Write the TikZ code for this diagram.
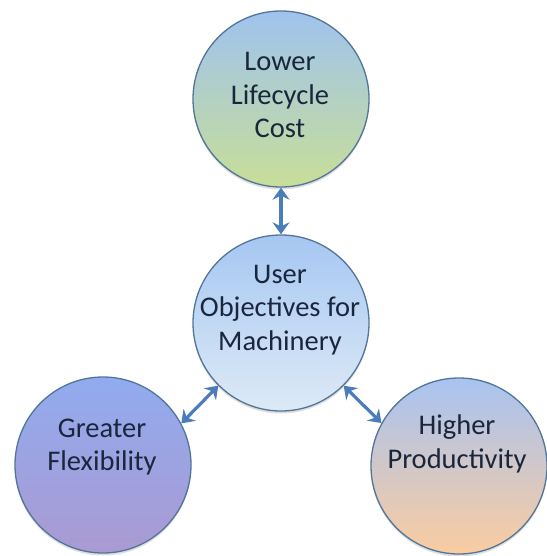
\documentclass[tikz,border=0pt]{standalone}
\usepackage{fontspec}
\setmainfont{Carlito}
\usetikzlibrary{arrows.meta,shadows}
\definecolor{edgec}{HTML}{527599}
\definecolor{arrc}{HTML}{4A7DBA}
\definecolor{txtc}{HTML}{1A263C}
\definecolor{topA}{HTML}{9FC3EE}
\definecolor{topB}{HTML}{C8DE98}
\definecolor{midA}{HTML}{A6C7F2}
\definecolor{midB}{HTML}{DDEAF6}
\definecolor{leftA}{HTML}{91ABEF}
\definecolor{leftB}{HTML}{AA9AD2}
\definecolor{rightA}{HTML}{A8C3F1}
\definecolor{rightB}{HTML}{FACCA0}
\tikzset{
  circ/.style={circle, draw=edgec, line width=1.3pt, minimum size=176pt, inner sep=0pt,
    drop shadow={shadow xshift=0pt, shadow yshift=-2.5pt, opacity=0.25}},
  txt/.style={align=center, text=txtc, font=\fontsize{28.5}{33.5}\selectfont, inner sep=0pt},
  link/.style={draw=arrc, line width=3.2pt, {Stealth[length=12pt,width=17pt,inset=4pt]}-{Stealth[length=12pt,width=17pt,inset=4pt]}}
}
\begin{document}
\begin{tikzpicture}[x=1pt,y=-1pt]
\useasboundingbox (0,0) rectangle (546,556);
\fill[white] (0,0) rectangle (546,556);
\node[circ, top color=topA, bottom color=topB] (top) at (281,99) {};
\node[circ, top color=midA, bottom color=midB] (mid) at (281,323) {};
\node[circ, top color=leftA, bottom color=leftB] (left) at (103,465) {};
\node[circ, top color=rightA, bottom color=rightB] (right) at (459,466) {};
\node[txt] (toptext) at (280,95) {Lower\\Lifecycle\\Cost};
\node[txt] (midtext) at (280,310) {User\\Objectives for\\Machinery};
\node[txt] (lefttext) at (102,447) {Greater\\Flexibility};
\node[txt] (righttext) at (457,444) {Higher\\Productivity};
\draw[link] (top.south) -- (mid.north);
\draw[link] (mid.225) -- (left.28);
\draw[link] (mid.-45) -- (right.151);
\end{tikzpicture}
\end{document}
